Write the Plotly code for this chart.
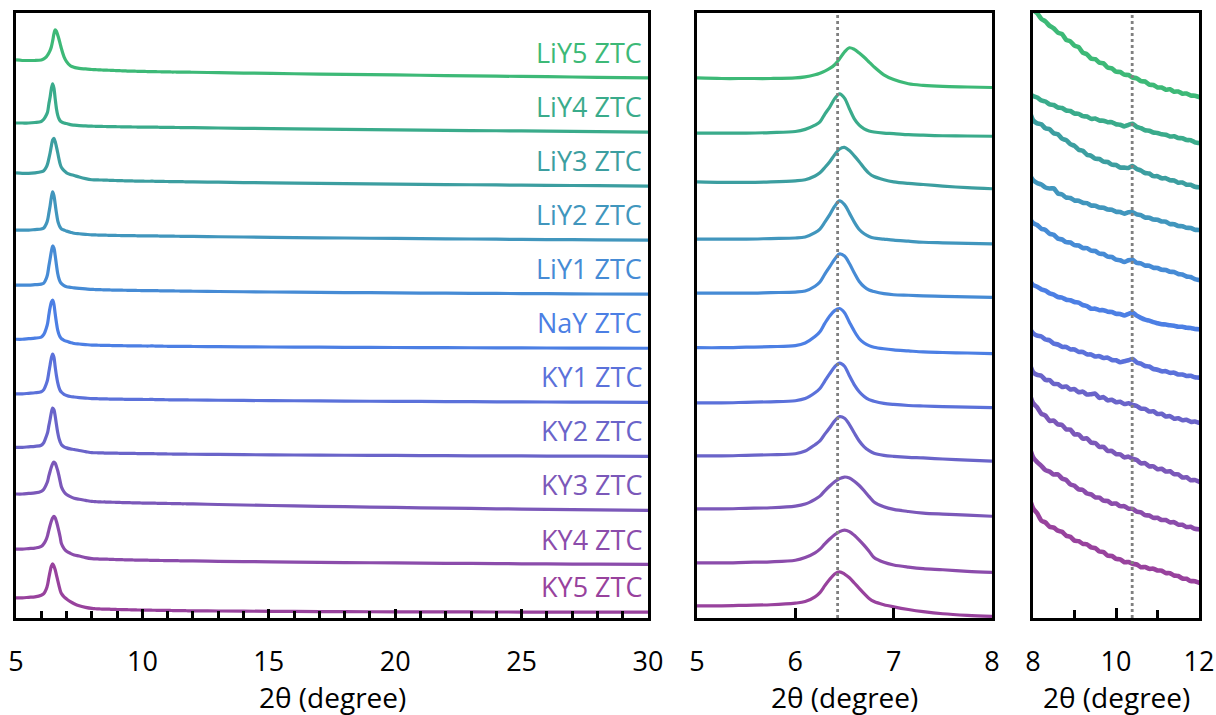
import plotly.graph_objects as go

# 2-theta sampling grid (degree): peak region, 8-12 deg region, high-angle tail
two_theta_peak = [5.0, 5.25, 5.5, 5.75, 6.0, 6.1, 6.2, 6.25, 6.3, 6.35, 6.4, 6.45, 6.5,
                  6.55, 6.6, 6.65, 6.7, 6.75, 6.8, 6.9, 7.0, 7.15, 7.3, 7.5, 7.75]
two_theta_mid = [8.0, 8.1, 8.2, 8.3, 8.4, 8.5, 8.6, 8.7, 8.8, 8.9,
                 9.0, 9.1, 9.2, 9.3, 9.4, 9.5, 9.6, 9.7, 9.8, 9.9,
                 10.0, 10.1, 10.2, 10.3, 10.4, 10.5, 10.6, 10.7, 10.8, 10.9,
                 11.0, 11.1, 11.2, 11.3, 11.4, 11.5, 11.6, 11.7, 11.8, 11.9, 12.0]
two_theta_tail = [13, 14, 16, 18, 20, 22, 24, 26, 28, 30]
two_theta = two_theta_peak + two_theta_mid + two_theta_tail

samples = ["LiY5 ZTC", "LiY4 ZTC", "LiY3 ZTC", "LiY2 ZTC", "LiY1 ZTC", "NaY ZTC",
           "KY1 ZTC", "KY2 ZTC", "KY3 ZTC", "KY4 ZTC", "KY5 ZTC"]

# normalised XRD intensity (a.u., strongest reflection = 100)
liy5 = [43, 42, 42, 42, 43, 45, 49, 52, 56, 61, 68, 79, 92, 100, 97, 90, 82, 73, 64, 49, 40, 32, 29, 27, 26,
        25.00, 24.81, 24.47, 24.31, 24.05, 23.90, 23.64, 23.55, 23.21, 23.12,
        22.86, 22.77, 22.44, 22.34, 22.08, 22.05, 21.84, 21.80, 21.55, 21.50,
        21.30, 21.28, 21.12, 21.10, 20.95, 20.90, 20.73, 20.71, 20.52, 20.50,
        20.35, 20.35, 20.22, 20.24, 20.10, 20.11, 19.98, 19.99, 19.87, 19.86, 19.78,
        19.0, 18.3, 17.0, 15.8, 14.7, 13.6, 12.5, 11.4, 10.3, 9.2]
liy4 = [26, 26, 26, 27, 29, 33, 41, 47, 62, 75, 91, 100, 92, 72, 53, 41, 34, 30, 28, 26, 25, 23, 22, 21, 20.5,
        20.00, 19.91, 19.74, 19.67, 19.50, 19.46, 19.31, 19.28, 19.13, 19.10,
        18.95, 18.93, 18.79, 18.77, 18.63, 18.65, 18.53, 18.52, 18.43, 18.43,
        18.31, 18.28, 18.18, 18.27, 18.33, 18.15, 18.07, 17.94, 17.92, 17.81,
        17.78, 17.70, 17.68, 17.57, 17.58, 17.48, 17.47, 17.36, 17.35, 17.22, 17.18,
        16.6, 16.0, 15.0, 14.0, 13.1, 12.2, 11.4, 10.6, 9.8, 9.0]
liy3 = [34, 33, 33, 34, 36, 38, 45, 51, 61, 72, 85, 96, 99, 93, 83, 72, 60, 50, 44, 38, 34, 31, 29, 26, 23,
        21.00, 20.80, 20.74, 20.50, 20.44, 20.21, 20.14, 19.88, 19.79, 19.55,
        19.45, 19.22, 19.15, 18.92, 18.85, 18.68, 18.66, 18.50, 18.48, 18.32,
        18.30, 18.15, 18.14, 18.12, 18.24, 18.06, 17.97, 17.82, 17.79, 17.63,
        17.63, 17.50, 17.51, 17.38, 17.37, 17.24, 17.25, 17.12, 17.11, 16.99, 16.96,
        16.3, 15.7, 14.6, 13.6, 12.7, 11.9, 11.1, 10.4, 9.7, 9.0]
liy2 = [28, 28, 28, 29, 30, 32, 40, 47, 60, 74, 90, 100, 93, 77, 60, 46, 38, 33, 30, 28, 26, 24, 22, 21, 20,
        19.00, 18.82, 18.73, 18.55, 18.49, 18.50, 18.19, 18.13, 17.95, 17.92,
        17.77, 17.76, 17.63, 17.61, 17.47, 17.46, 17.35, 17.34, 17.23, 17.22,
        17.10, 17.08, 16.98, 17.06, 17.07, 16.94, 16.89, 16.75, 16.74, 16.63,
        16.62, 16.51, 16.50, 16.36, 16.35, 16.24, 16.23, 16.13, 16.12, 16.02, 16.00,
        15.4, 14.9, 13.9, 13.0, 12.2, 11.5, 10.8, 10.1, 9.5, 9.0]
liy1 = [26, 26, 26, 27, 28, 30, 39, 47, 62, 76, 90, 100, 96, 82, 64, 48, 38, 32, 29, 25, 23, 22, 21, 20, 19,
        18.00, 17.88, 17.66, 17.58, 17.36, 17.29, 17.06, 17.01, 16.85, 16.83,
        16.67, 16.65, 16.50, 16.49, 16.34, 16.32, 16.16, 16.14, 15.98, 15.96,
        15.80, 15.77, 15.66, 15.76, 15.79, 15.61, 15.58, 15.45, 15.44, 15.32,
        15.30, 15.19, 15.18, 15.07, 15.06, 14.94, 14.91, 14.79, 14.76, 14.63, 14.58,
        14.1, 13.6, 12.8, 12.1, 11.5, 10.9, 10.4, 9.9, 9.4, 9.0]
nay = [26, 26, 27, 28, 30, 35, 47, 56, 72, 86, 96, 100, 92, 74, 57, 43, 35, 30, 27, 24, 22, 20, 18, 17, 16,
       15.00, 14.90, 14.74, 14.66, 14.50, 14.42, 14.28, 14.24, 14.12, 14.09,
       13.98, 13.94, 13.80, 13.73, 13.58, 13.58, 13.49, 13.49, 13.40, 13.38,
       13.28, 13.26, 13.17, 13.27, 13.35, 13.16, 13.03, 12.92, 12.86, 12.77,
       12.71, 12.65, 12.63, 12.58, 12.56, 12.50, 12.49, 12.43, 12.42, 12.36, 12.34,
       12.0, 11.7, 11.2, 10.8, 10.4, 10.1, 9.8, 9.5, 9.2, 9.0]
ky1 = [25, 25, 26, 27, 29, 33, 44, 52, 66, 80, 93, 100, 94, 76, 59, 46, 37, 31, 28, 24, 22, 20, 19, 18, 17,
       16.00, 15.84, 15.79, 15.61, 15.56, 15.36, 15.31, 15.17, 15.16, 15.02,
       15.01, 14.87, 14.86, 14.72, 14.71, 14.59, 14.61, 14.50, 14.52, 14.38,
       14.36, 14.25, 14.31, 14.37, 14.44, 14.23, 14.16, 14.02, 13.99, 13.84,
       13.80, 13.70, 13.71, 13.61, 13.62, 13.51, 13.51, 13.42, 13.43, 13.34, 13.32,
       12.9, 12.5, 11.9, 11.3, 10.8, 10.4, 10.0, 9.6, 9.3, 9.0]
ky2 = [26, 26, 27, 28, 30, 35, 47, 54, 67, 79, 92, 100, 97, 85, 69, 54, 43, 36, 31, 27, 25, 23, 22, 20, 18,
       16.00, 15.83, 15.78, 15.52, 15.51, 15.29, 15.27, 15.10, 15.13, 14.95,
       14.97, 14.79, 14.82, 14.65, 14.67, 14.70, 14.45, 14.49, 14.30, 14.33,
       14.19, 14.21, 14.08, 14.12, 14.03, 13.96, 13.80, 13.79, 13.63, 13.64,
       13.48, 13.49, 13.33, 13.35, 13.20, 13.22, 13.11, 13.13, 13.01, 13.03, 12.96,
       12.6, 12.2, 11.6, 11.1, 10.7, 10.3, 9.9, 9.6, 9.3, 9.0]
ky3 = [40, 40, 41, 42, 45, 49, 58, 64, 74, 83, 91, 97, 100, 98, 92, 84, 74, 63, 53, 44, 39, 35, 32, 30, 28,
       26.00, 25.74, 25.36, 25.24, 24.93, 24.94, 24.72, 24.68, 24.42, 24.40,
       24.12, 24.11, 23.86, 23.88, 23.62, 23.60, 23.37, 23.36, 23.13, 23.12,
       22.93, 22.92, 22.74, 22.78, 22.66, 22.58, 22.38, 22.39, 22.20, 22.20,
       22.03, 22.05, 21.89, 21.90, 21.73, 21.72, 21.53, 21.54, 21.37, 21.38, 21.28,
       20.2, 19.2, 17.5, 16.0, 14.6, 13.3, 12.1, 11.0, 10.0, 9.0]
ky4 = [38, 38, 39, 40, 43, 48, 57, 64, 74, 83, 91, 97, 100, 97, 90, 81, 71, 60, 48, 39, 34, 30, 27, 25, 22,
       20.00, 19.69, 19.47, 19.21, 19.12, 18.95, 18.96, 18.71, 18.62, 18.36,
       18.27, 18.06, 18.02, 17.81, 17.76, 17.58, 17.56, 17.38, 17.36, 17.20,
       17.21, 17.05, 17.05, 16.90, 16.89, 16.72, 16.68, 16.51, 16.49, 16.35,
       16.35, 16.22, 16.22, 16.08, 16.09, 15.94, 15.93, 15.80, 15.81, 15.69, 15.66,
       15.0, 14.5, 13.5, 12.6, 11.9, 11.2, 10.6, 10.0, 9.5, 9.0]
ky5 = [36, 36, 37, 38, 41, 44, 53, 61, 74, 86, 96, 100, 96, 89, 79, 69, 59, 50, 44, 38, 34, 29, 25, 21, 18,
       16.00, 15.68, 15.24, 15.13, 14.88, 14.82, 14.64, 14.57, 14.34, 14.27,
       14.04, 14.01, 13.85, 13.82, 13.64, 13.59, 13.39, 13.35, 13.14, 13.12,
       12.95, 12.92, 12.75, 12.76, 12.65, 12.61, 12.45, 12.46, 12.35, 12.36,
       12.25, 12.24, 12.10, 12.09, 11.95, 11.92, 11.77, 11.75, 11.62, 11.61, 11.52,
       11.2, 10.9, 10.4, 10.0, 9.7, 9.5, 9.3, 9.2, 9.1, 9.0]

intensities = [liy5, liy4, liy3, liy2, liy1, nay, ky1, ky2, ky3, ky4, ky5]
for name, arr in zip(samples, intensities):
    if len(arr) != len(two_theta):
        raise ValueError(f"{name}: {len(arr)} points, expected {len(two_theta)}")

colors = ["#3db977", "#3aab8b", "#3c9ea0", "#4196bd", "#468bd5", "#4c7fe4",
          "#5b71da", "#6a64c9", "#7b58b9", "#8b4cab", "#98429d"]

# reference 2-theta positions of the main reflection and the weak 10.4 deg feature
ref_peak = 6.43
ref_weak = 10.39

# vertical stacking offsets for each panel (a.u.)
shift_full = [1010, 908, 806, 704, 602, 500, 398, 296, 194, 92, 2]
shift_zoom = [976, 889, 789, 687, 587, 484, 381, 280, 166, 66, -13]
shift_weak = [11.48, 11.32, 8.88, 7.28, 5.70, 4.98, 1.10, -1.24, -13.10, -10.34, -9.40]

FONT = "Open Sans"
W, H = 1216, 715
dom_y = [(H - 618) / H, (H - 13) / H]
dom_x1 = [16 / W, 648 / W]
dom_x2 = [697 / W, 992 / W]
dom_x3 = [1033 / W, 1199 / W]

fig = go.Figure()

# (x axis, y axis, stacking, x window, line width, spline smoothing)
panels = [
    ("x", "y", shift_full, 5.0, 30.0, 3.2, 0.9),
    ("x2", "y2", shift_zoom, 5.0, 8.0, 3.2, 0.9),
    ("x3", "y3", shift_weak, 7.75, 13.0, 4.6, 0.6),
]
for xa, ya, shifts, lo, hi, lw, sm in panels:
    for name, arr, col, s in zip(samples, intensities, colors, shifts):
        xs = [t for t in two_theta if lo <= t <= hi]
        ys = [v + s for t, v in zip(two_theta, arr) if lo <= t <= hi]
        fig.add_trace(go.Scatter(
            x=xs, y=ys, mode="lines", name=name, showlegend=False,
            line=dict(color=col, width=lw, shape="spline", smoothing=sm),
            xaxis=xa, yaxis=ya, hoverinfo="skip"))

# sample labels on the full-range panel
for name, col, s in zip(samples, colors, shift_full):
    fig.add_annotation(x=29.85, y=s + 57, xref="x", yref="y", text=name,
                       showarrow=False, xanchor="right", yanchor="middle",
                       font=dict(family=FONT, size=27, color=col))

# dotted guide lines
for xa, ya, xv in (("x2", "y2", ref_peak), ("x3", "y3", ref_weak)):
    fig.add_shape(type="line", xref=xa, yref=f"{ya} domain",
                  x0=xv, x1=xv, y0=0, y1=1,
                  line=dict(color="#808080", width=2.8, dash="dot"))

# axis titles
for xa in ("x", "x2", "x3"):
    fig.add_annotation(x=0.5, y=(H - 697) / H, xref=f"{xa} domain", yref="paper",
                       text="2θ (degree)", showarrow=False, xanchor="center",
                       yanchor="middle", font=dict(family=FONT, size=28, color="black"))

frame = dict(showline=True, linecolor="black", linewidth=2.5, mirror=True,
             showgrid=False, zeroline=False, automargin=False)
xcommon = dict(ticks="inside", tickwidth=2.5, tickcolor="black",
               tickfont=dict(family=FONT, size=27, color="black"),
               ticklabelstandoff=18, ticklabeloverflow="allow", **frame)
ycommon = dict(showticklabels=False, ticks="", **frame)

fig.update_layout(
    width=W, height=H, autosize=False,
    margin=dict(l=0, r=0, t=0, b=0, pad=0, autoexpand=False),
    paper_bgcolor="white", plot_bgcolor="white",
    xaxis=dict(domain=dom_x1, range=[5, 30], tickmode="array",
               tickvals=[5, 10, 15, 20, 25, 30], ticklen=9,
               minor=dict(dtick=1, ticks="inside", ticklen=7, tickwidth=2.5,
                          tickcolor="black", showgrid=False),
               anchor="y", **xcommon),
    yaxis=dict(domain=dom_y, range=[0, 1141.6], anchor="x", **ycommon),
    xaxis2=dict(domain=dom_x2, range=[5, 8], tickmode="array",
                tickvals=[5, 6, 7, 8], ticklen=10, anchor="y2", **xcommon),
    yaxis2=dict(domain=dom_y, range=[0, 1141.6], anchor="x2", **ycommon),
    xaxis3=dict(domain=dom_x3, range=[8, 12], tickmode="array",
                tickvals=[8, 10, 12], ticklen=10,
                minor=dict(dtick=1, ticks="inside", ticklen=8, tickwidth=2.5,
                           tickcolor="black", showgrid=False),
                anchor="y3", **xcommon),
    yaxis3=dict(domain=dom_y, range=[0, 36.3], anchor="x3", **ycommon),
)

# keep the page exactly the size of the figure (no body margin, no scrollbars)
page_fit = ("document.body.style.margin='0';"
            "document.body.style.overflow='hidden';")
fig.write_html("out.html", config={"responsive": False}, post_script=page_fit)
